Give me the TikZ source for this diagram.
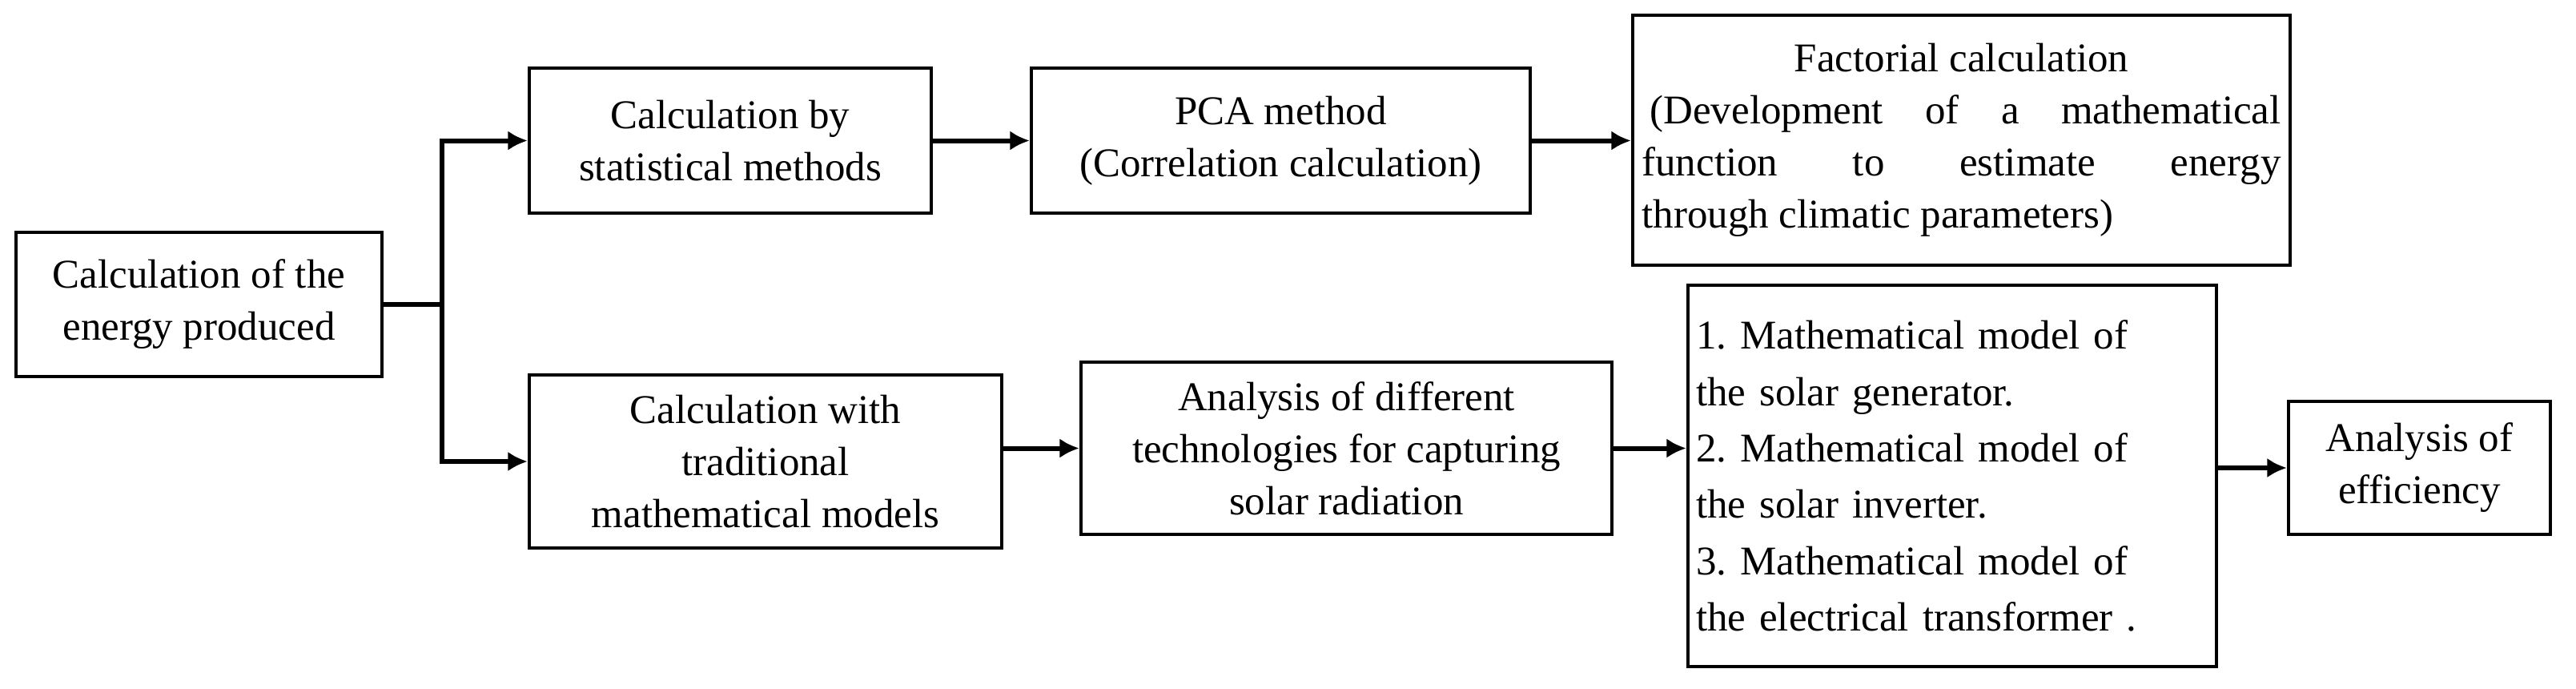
\documentclass[tikz,border=0pt]{standalone}
\usepackage{fontspec}
\setmainfont{Liberation Serif}
\usetikzlibrary{arrows.meta}
\begin{document}
\frenchspacing
\begin{tikzpicture}[
  box/.style={draw, line width=1.2pt, align=center, inner sep=2pt, font=\fontsize{14.5}{18.5}\selectfont},
  conn/.style={line width=1.7pt},
  arr/.style={conn, -{Latex[length=7pt,width=7pt]}}
]
\useasboundingbox (0,0) rectangle (32.17,-8.59);
\node[box, minimum width=4.57cm, minimum height=1.80cm] (b1) at (2.485,-3.80) {Calculation of the\\energy produced};
\node[box, minimum width=5.02cm, minimum height=1.81cm] (b2) at (9.12,-1.755) {Calculation by\\statistical methods};
\node[box, minimum width=6.23cm, minimum height=1.81cm] (b3) at (15.995,-1.755) {PCA method\\(Correlation calculation)};
\node[box, minimum width=8.21cm, minimum height=3.12cm, align=justify, text width=7.98cm] (b4) at (24.495,-1.75)
  {{\centering Factorial calculation\par}\hspace*{0.1cm}(Development of a mathematical\linebreak function to estimate energy\linebreak through climatic parameters)};
\node[box, minimum width=5.90cm, minimum height=2.16cm] (b5) at (9.56,-5.76) {Calculation with\\traditional\\mathematical models};
\node[box, minimum width=6.63cm, minimum height=2.15cm] (b6) at (16.815,-5.595) {Analysis of different\\technologies for capturing\\solar radiation};
\node[box, minimum width=6.60cm, minimum height=4.76cm, align=left, text width=6.4cm, font=\fontsize{14.5}{20}\selectfont] (b7) at (24.38,-5.94)
  {1. Mathematical model of\\the solar generator.\\2. Mathematical model of\\the solar inverter.\\3. Mathematical model of\\the electrical transformer .};
\node[box, minimum width=3.27cm, minimum height=1.66cm] (b8) at (30.215,-5.84) {Analysis of\\efficiency};
\coordinate (j) at (5.52,-3.80);
\draw[conn] (b1.east) -- (j);
\draw[arr] (j) |- (b2.west);
\draw[arr] (j) |- (b5.west);
\draw[arr] (b2) -- (b3);
\draw[arr] (b3.east) -- (b4.west |- b3.east);
\draw[arr] (b5.east |- b6.west) -- (b6.west);
\draw[arr] (b6.east) -- (b7.west |- b6.east);
\draw[arr] (b7.east |- b8.west) -- (b8.west);
\end{tikzpicture}
\end{document}
